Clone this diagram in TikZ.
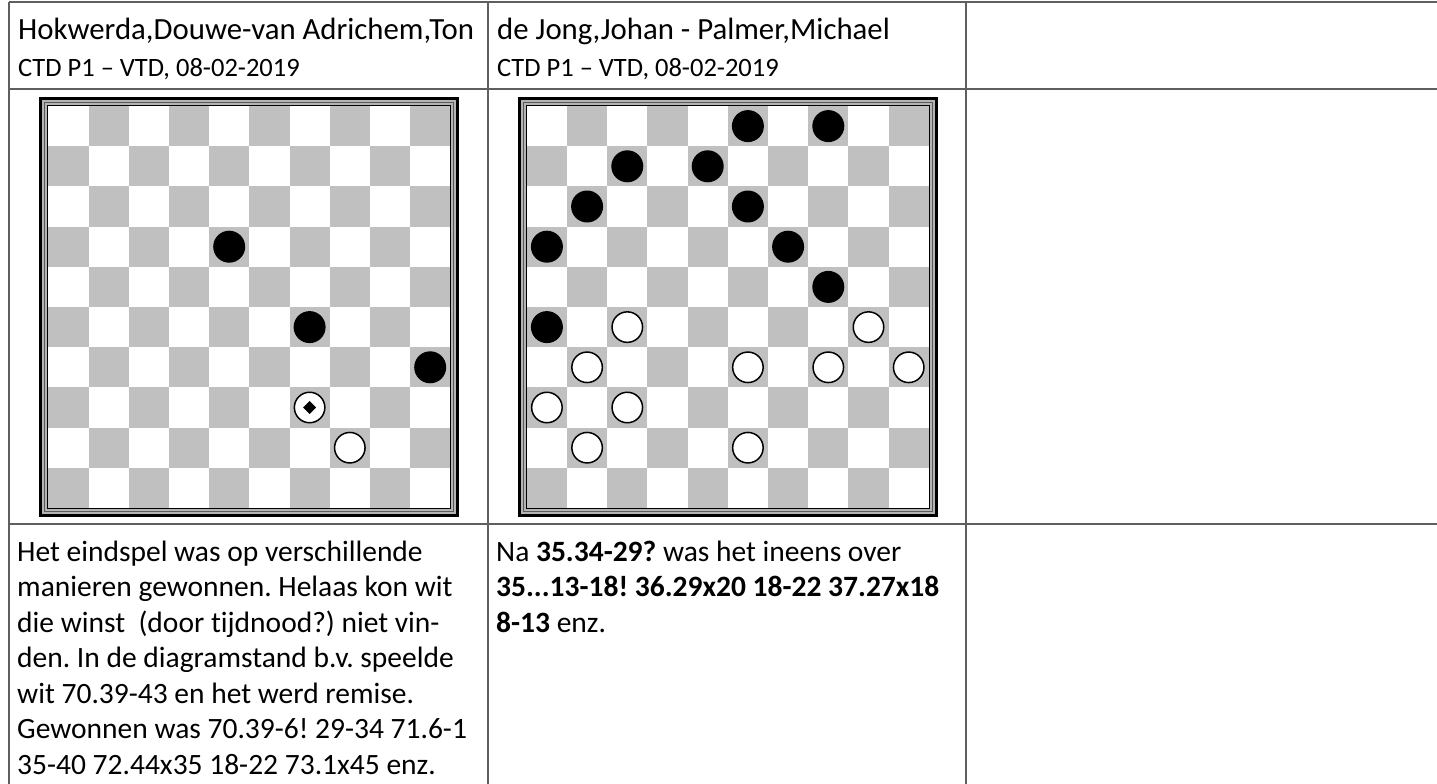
\documentclass[tikz,border=0pt]{standalone}
\usepackage{fontspec}
\setmainfont{Carlito}[Ligatures={TeX,NoCommon}]
\usetikzlibrary{shapes.geometric}
\definecolor{veldgrijs}{HTML}{C0C0C0}
\definecolor{randgrijs}{HTML}{B4B4B4}
\definecolor{randdonker}{HTML}{5A5A5A}
\definecolor{lijngrijs}{HTML}{5F5F5F}
\newcommand{\titelfont}{\fontsize{30.8}{37}\selectfont}
\newcommand{\subfont}{\fontsize{26.5}{32}\selectfont}
\newcommand{\tekstfont}{\fontsize{29.5}{35.6}\selectfont}
\frenchspacing
\tikzset{%
	tabellijn/.style = { lijngrijs, line width=1.3pt },
	veld/.style = { fill=veldgrijs },
	zwart/.style = { circle, fill=black, minimum size=32pt, inner sep=0pt },
	wit/.style = { circle, draw=black, fill=white, line width=1.5pt, minimum size=30.5pt, inner sep=0pt },
	dam/.style = { diamond, fill=black, minimum size=13pt, inner sep=0pt },
	kop/.style = { anchor=base west, inner sep=0pt, font=\titelfont },
	sub/.style = { anchor=base west, inner sep=0pt, font=\subfont },
	regel/.style = { anchor=base west, inner sep=0pt, font=\tekstfont }
}
\begin{document}
\begin{tikzpicture}[x=1pt, y=-1pt]
	\useasboundingbox (0,0) rectangle (1437,784);
	\fill[white] (0,0) rectangle (1437,784);
	% tabel
	\draw[tabellijn] (9,2) -- (1437,2);
	\draw[tabellijn] (9,89) -- (1437,89);
	\draw[tabellijn] (9,524) -- (1437,524);
	\draw[tabellijn] (9,2) -- (9,784);
	\draw[tabellijn] (488,2) -- (488,784);
	\draw[tabellijn] (966,2) -- (966,784);
	% koppen
	\node[kop] (titel1) at (18,40) {Hokwerda,Douwe-van Adrichem,Ton};
	\node[sub] (datum1) at (18,76) {CTD P1 – VTD, 08-02-2019};
	\node[kop] (titel2) at (497,40) {de Jong,Johan - Palmer,Michael};
	\node[sub] (datum2) at (497,76) {CTD P1 – VTD, 08-02-2019};
	% borden
	\foreach \bx in {48.3,526.8} {
		\begin{scope}[shift={(\bx,106)}]
			\fill[black] (-9,-9) rectangle (411,411);
			\fill[randgrijs] (-6,-6) rectangle (408,408);
			\draw[randdonker, line width=1pt] (-3.5,-3.5) rectangle (405.5,405.5);
			\draw[black, line width=1pt] (-0.5,-0.5) rectangle (402.5,402.5);
			\fill[white] (0,0) rectangle (402,402);
			\foreach \r in {0,...,9}
				\foreach \c in {0,2,...,8}
					\fill[veld] ({(\c+1-mod(\r,2))*40.2},{\r*40.2}) rectangle ++(40.2,40.2);
		\end{scope}
	}
	% stukken bord 1
	\begin{scope}[shift={(48.3,106)}]
		\foreach \r/\c [count=\i] in {3/4,5/6,6/9}
			\node[zwart] (za\i) at ({(\c+0.5)*40.2},{(\r+0.5)*40.2}) {};
		\node[wit] (wa1) at ({7.5*40.2},{8.5*40.2}) {};
		\node[wit] (wdam) at ({6.5*40.2},{7.5*40.2}) {};
		\node[dam] (wdamkern) at (wdam) {};
	\end{scope}
	% stukken bord 2
	\begin{scope}[shift={(526.8,106)}]
		\foreach \r/\c [count=\i] in {0/5,0/7,1/2,1/4,2/1,2/5,3/0,3/6,4/7,5/0}
			\node[zwart] (zb\i) at ({(\c+0.5)*40.2},{(\r+0.5)*40.2}) {};
		\foreach \r/\c [count=\i] in {5/2,5/8,6/1,6/5,6/7,6/9,7/0,7/2,8/1,8/5}
			\node[wit] (wb\i) at ({(\c+0.5)*40.2},{(\r+0.5)*40.2}) {};
	\end{scope}
	% commentaar
	\foreach \t [count=\i] in {{Het eindspel was op verschillende},
		{manieren gewonnen. Helaas kon wit},
		{die winst\ \ (door tijdnood?) niet vin-},
		{den. In de diagramstand b.v. speelde},
		{wit 70.39-43 en het werd remise.},
		{Gewonnen was 70.39-6! 29-34 71.6-1},
		{35-40 72.44x35 18-22 73.1x45 enz.}}
		\node[regel] (ta\i) at (17,{561+35.5*(\i-1)}) {\t};
	\foreach \t [count=\i] in {{Na \textbf{35.34-29?} was het ineens over},
		{\textbf{35...13-18! 36.29x20 18-22 37.27x18}},
		{\textbf{8-13} enz.}}
		\node[regel] (tb\i) at (496,{561+35.5*(\i-1)}) {\t};
\end{tikzpicture}
\end{document}
